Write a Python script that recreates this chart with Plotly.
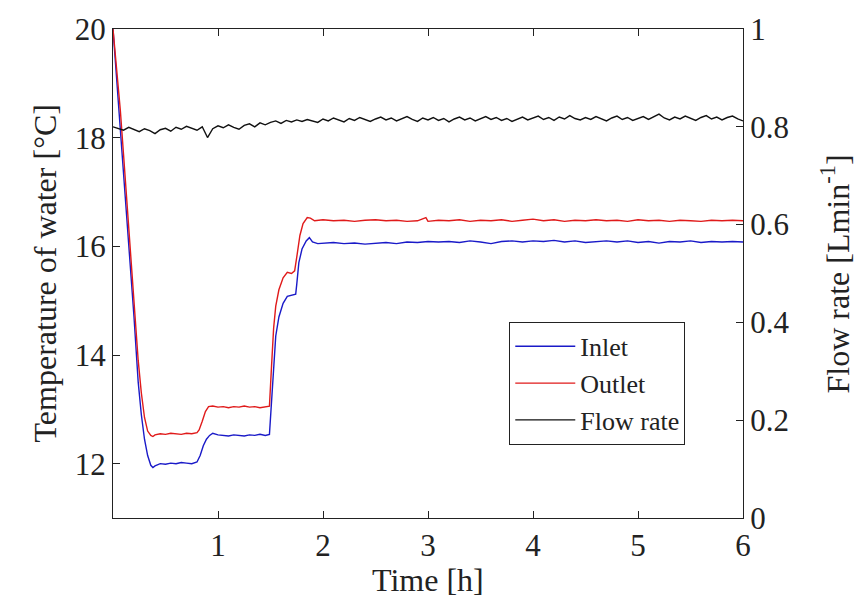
import plotly.graph_objects as go

# ---- data ----
inlet_t = [0.00, 0.03, 0.07, 0.10, 0.13, 0.17, 0.20, 0.24, 0.27, 0.30, 0.33, 0.36, 0.38, 0.40,
           0.45, 0.50, 0.55, 0.60, 0.65, 0.70, 0.75, 0.80, 0.83, 0.86, 0.89, 0.92, 0.95,
           1.00, 1.05, 1.10, 1.15, 1.20, 1.25, 1.30, 1.35, 1.40, 1.45, 1.49,
           1.51, 1.53, 1.55, 1.58, 1.62, 1.66, 1.70, 1.74, 1.75, 1.77, 1.80, 1.84, 1.87, 1.90, 1.95,
           2.0, 2.1, 2.2, 2.3, 2.4, 2.5, 2.6, 2.7, 2.8, 2.9, 3.0, 3.1, 3.2, 3.3, 3.4, 3.5, 3.6, 3.7,
           3.8, 3.9, 4.0, 4.1, 4.2, 4.3, 4.4, 4.5, 4.6, 4.7, 4.8, 4.9, 5.0, 5.1, 5.2, 5.3, 5.4,
           5.5, 5.6, 5.7, 5.8, 5.9, 6.0]
inlet_T = [20.0, 19.2, 18.2, 17.4, 16.6, 15.6, 14.7, 13.5, 12.9, 12.45, 12.15, 11.97, 11.93, 11.96,
           12.00, 11.99, 12.01, 12.00, 12.02, 12.01, 12.00, 12.03, 12.15, 12.33, 12.45, 12.52, 12.56,
           12.53, 12.52, 12.51, 12.53, 12.52, 12.51, 12.53, 12.52, 12.54, 12.52, 12.54,
           13.20, 13.90, 14.35, 14.70, 14.95, 15.08, 15.10, 15.12, 15.30, 15.70, 15.95, 16.10, 16.16, 16.08, 16.05,
           16.06, 16.07, 16.05, 16.06, 16.04, 16.06, 16.07, 16.05, 16.08, 16.07, 16.09, 16.08, 16.09, 16.07,
           16.10, 16.08, 16.05, 16.09, 16.10, 16.08, 16.10, 16.09, 16.11, 16.08, 16.10, 16.07, 16.09, 16.10,
           16.08, 16.10, 16.07, 16.09, 16.06, 16.09, 16.08, 16.10, 16.07, 16.09, 16.08, 16.09, 16.08]

outlet_t = [0.00, 0.03, 0.07, 0.10, 0.13, 0.17, 0.20, 0.24, 0.27, 0.30, 0.33, 0.36, 0.38, 0.40,
            0.45, 0.50, 0.55, 0.60, 0.65, 0.70, 0.75, 0.80, 0.82, 0.85, 0.88, 0.91, 0.95,
            1.00, 1.05, 1.10, 1.15, 1.20, 1.25, 1.30, 1.35, 1.40, 1.45, 1.49,
            1.51, 1.53, 1.55, 1.58, 1.62, 1.66, 1.70, 1.73, 1.75, 1.78, 1.81, 1.85, 1.88, 1.92,
            2.0, 2.1, 2.2, 2.3, 2.4, 2.5, 2.6, 2.7, 2.8, 2.9, 2.98, 3.0, 3.1, 3.2, 3.3, 3.4, 3.5,
            3.6, 3.7, 3.8, 3.9, 4.0, 4.1, 4.2, 4.3, 4.4, 4.5, 4.6, 4.7, 4.8, 4.9, 5.0, 5.1, 5.2,
            5.3, 5.4, 5.5, 5.6, 5.7, 5.8, 5.9, 6.0]
outlet_T = [20.0, 19.4, 18.5, 17.7, 16.9, 15.9, 15.0, 13.9, 13.3, 12.85, 12.6, 12.52, 12.50, 12.53,
            12.55, 12.54, 12.56, 12.55, 12.54, 12.56, 12.55, 12.57, 12.62, 12.78, 12.96, 13.05, 13.06,
            13.04, 13.05, 13.03, 13.05, 13.04, 13.06, 13.04, 13.05, 13.03, 13.05, 13.06,
            13.80, 14.50, 14.90, 15.20, 15.42, 15.52, 15.50, 15.55, 15.80, 16.20, 16.42, 16.53, 16.52, 16.47,
            16.49, 16.47, 16.48, 16.46, 16.48, 16.49, 16.47, 16.48, 16.46, 16.47, 16.53, 16.46, 16.48, 16.47,
            16.49, 16.46, 16.48, 16.47, 16.49, 16.46, 16.48, 16.50, 16.47, 16.49, 16.46, 16.48, 16.47, 16.49,
            16.47, 16.48, 16.46, 16.49, 16.47, 16.48, 16.46, 16.48, 16.47, 16.46, 16.48, 16.47, 16.48, 16.47]

flow_t = [round(i * 0.05, 2) for i in range(121)]
flow_q = [0.800, 0.797, 0.793, 0.799, 0.795, 0.790, 0.796, 0.792, 0.786, 0.794,
          0.797, 0.791, 0.799, 0.795, 0.801, 0.797, 0.793, 0.800, 0.778, 0.796,
          0.802, 0.798, 0.804, 0.799, 0.795, 0.803, 0.806, 0.800, 0.808, 0.804,
          0.809, 0.812, 0.807, 0.813, 0.810, 0.814, 0.811, 0.815, 0.812, 0.809,
          0.816, 0.812, 0.818, 0.814, 0.810, 0.817, 0.813, 0.819, 0.815, 0.811,
          0.816, 0.820, 0.814, 0.818, 0.812, 0.817, 0.821, 0.815, 0.811, 0.818,
          0.814, 0.819, 0.813, 0.817, 0.810, 0.816, 0.820, 0.814, 0.818, 0.812,
          0.817, 0.821, 0.815, 0.819, 0.813, 0.817, 0.811, 0.816, 0.820, 0.814,
          0.818, 0.822, 0.815, 0.819, 0.813, 0.820, 0.816, 0.823, 0.817, 0.814,
          0.819, 0.815, 0.821, 0.816, 0.812, 0.818, 0.822, 0.815, 0.819, 0.813,
          0.817, 0.821, 0.815, 0.820, 0.826, 0.818, 0.814, 0.820, 0.816, 0.822,
          0.817, 0.813, 0.819, 0.823, 0.816, 0.820, 0.814, 0.819, 0.822, 0.816,
          0.812]

x_ticks = [1, 2, 3, 4, 5, 6]
yl_ticks = [12, 14, 16, 18, 20]
yr_ticks = [0, 0.2, 0.4, 0.6, 0.8, 1]
yr_labels = ["0", "0.2", "0.4", "0.6", "0.8", "1"]

FONT = "Liberation Serif, Times New Roman, serif"
TICK = 31
TITLE = 32

fig = go.Figure()
fig.add_trace(go.Scatter(x=inlet_t, y=inlet_T, mode="lines", name="Inlet",
                         line=dict(color="#1a1ac8", width=1.4)))
fig.add_trace(go.Scatter(x=outlet_t, y=outlet_T, mode="lines", name="Outlet",
                         line=dict(color="#e01a1a", width=1.4)))
fig.add_trace(go.Scatter(x=flow_t, y=flow_q, mode="lines", name="Flow rate", yaxis="y2",
                         line=dict(color="#111111", width=1.4)))

fig.update_layout(
    width=858, height=612,
    margin=dict(l=113, r=115, t=19, b=94),
    paper_bgcolor="white", plot_bgcolor="white",
    font=dict(family=FONT, size=TICK, color="#222"),
    showlegend=True,
    legend=dict(x=0.629, y=0.401, xanchor="left", yanchor="top",
                bgcolor="white", bordercolor="#222", borderwidth=1,
                font=dict(family=FONT, size=26, color="#222"),
                tracegroupgap=0, itemwidth=60),
    xaxis=dict(range=[0, 6], tickvals=x_ticks, ticks="inside", ticklen=7,
               tickcolor="#222", showline=True, linecolor="#222", linewidth=1.2,
               mirror="ticks", showgrid=False, zeroline=False,
               tickfont=dict(family=FONT, size=TICK, color="#222")),
    yaxis=dict(range=[11, 20], tickvals=yl_ticks, ticks="inside", ticklen=7,
               tickcolor="#222", showline=True, linecolor="#222", linewidth=1.2,
               showgrid=False, zeroline=False,
               tickfont=dict(family=FONT, size=TICK, color="#222")),
    yaxis2=dict(range=[0, 1], tickvals=yr_ticks, ticktext=yr_labels, overlaying="y",
                side="right", ticks="inside", ticklen=7, tickcolor="#222",
                showline=True, linecolor="#222", linewidth=1.2,
                showgrid=False, zeroline=False,
                tickfont=dict(family=FONT, size=TICK, color="#222")),
    annotations=[
        dict(text="Time [h]", xref="paper", yref="paper", x=0.5, y=-0.126,
             showarrow=False, xanchor="center", yanchor="middle",
             font=dict(family=FONT, size=TITLE, color="#222")),
        dict(text="Temperature of water [°C]", xref="paper", yref="paper", x=-0.108, y=0.5,
             showarrow=False, textangle=-90, xanchor="center", yanchor="middle",
             font=dict(family=FONT, size=TITLE, color="#222")),
        dict(text="Flow rate [Lmin<sup>-1</sup>]", xref="paper", yref="paper", x=1.146, y=0.5,
             showarrow=False, textangle=-90, xanchor="center", yanchor="middle",
             font=dict(family=FONT, size=TITLE, color="#222")),
    ],
)

fig.write_html("out.html")
